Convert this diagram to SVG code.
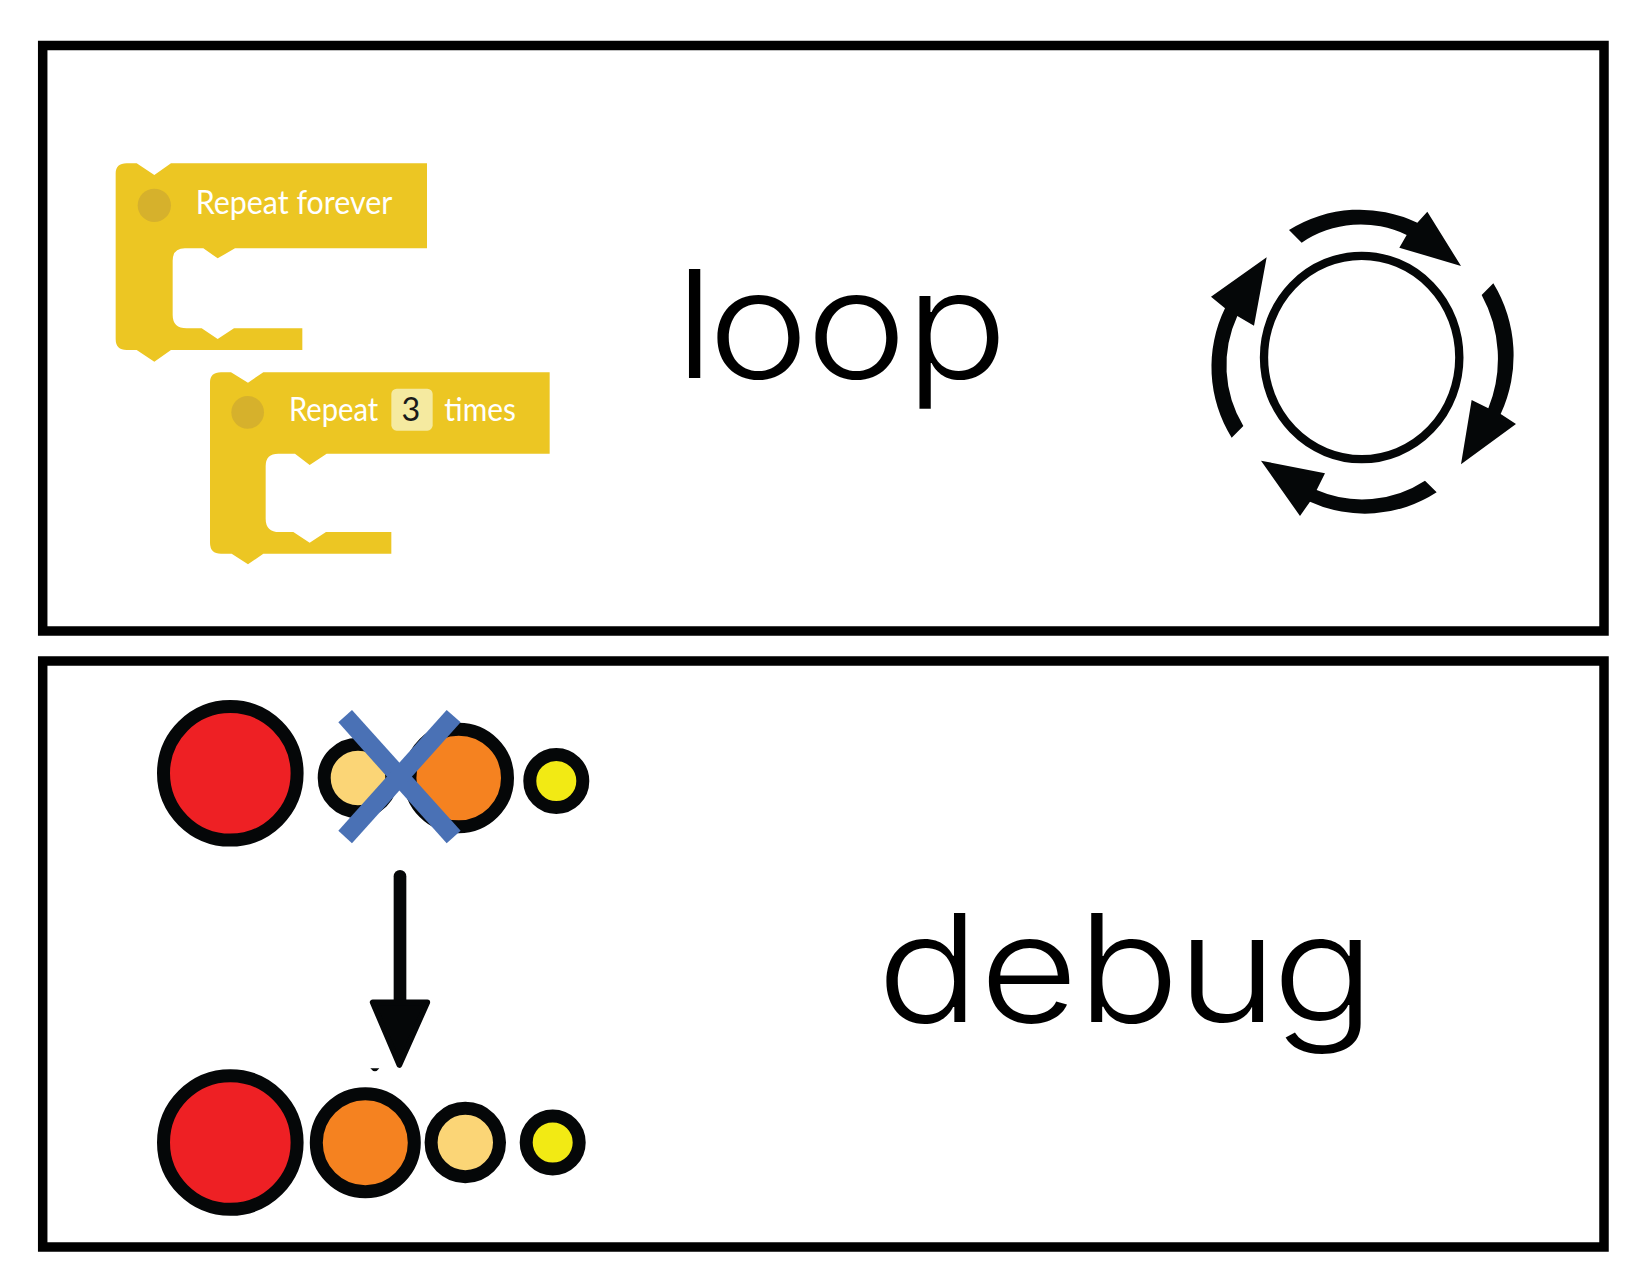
<svg xmlns="http://www.w3.org/2000/svg" width="1651" height="1276" viewBox="0 0 1651 1276">
<style>
.frame{fill:#fff;stroke:#000;stroke-width:9.5}
.block{fill:#ECC623}
.dot{fill:#D6B12C}
.bt{font-family:"Lato","Liberation Sans",sans-serif;font-size:97px;fill:#fff}
.big{font-family:"Inter","Liberation Sans",sans-serif;font-weight:300;font-size:150px;fill:#000}
.ink{fill:#050708}
.ring{stroke:#050708;stroke-width:13}
.red{fill:#EE2024}.org{fill:#F58220}.lt{fill:#FBD576}.yel{fill:#F2EA14}
.x{fill:#4A71B5}
</style>
<rect id="frame-loop" class="frame" x="42.7" y="45.5" width="1561.3" height="585.5"/>
<rect id="frame-debug" class="frame" x="42.7" y="661" width="1561.3" height="586"/>
<g id="block-forever" transform="translate(90 140) scale(.33333)">
<path class="block" d="M77 100Q77 70 110 70L140 70L193 105L243 70L1011 70L1011 325L435 325L383 355L340 325L285 325Q248 325 248 362L248 525Q248 565 290 565L335 565L383 597L432 565L637 565L637 630L243 630L193 665L140 630L110 630Q77 630 77 597Z"/>
<circle class="dot" cx="193" cy="196" r="50"/>
<text class="bt" x="317" y="222" textLength="590" lengthAdjust="spacingAndGlyphs">Repeat forever</text>
</g>
<g id="block-repeat" transform="translate(90 140) scale(.33333)">
<path class="block" d="M360 727Q360 697 393 697L423 697L474 728L520 697L1379 697L1379 941L710 941L659 975L615 941L565 941Q527 941 527 978L527 1136Q527 1176 568 1176L610 1176L659 1208L708 1176L904 1176L904 1241L520 1241L474 1273L425 1241L393 1241Q360 1241 360 1208Z"/>
<circle class="dot" cx="473" cy="817" r="49"/>
<text class="bt" x="597" y="842" textLength="268" lengthAdjust="spacingAndGlyphs">Repeat</text>
<rect x="904" y="746" width="124" height="126" rx="16" fill="#F5EAA0"/>
<text class="bt" x="963" y="842" text-anchor="middle" style="fill:#1a1a1a">3</text>
<text class="bt" x="1063" y="842" textLength="215" lengthAdjust="spacingAndGlyphs">times</text>
</g>
<text id="label-loop" class="big" transform="scale(1.135 1)" x="594.4 623.8 710.1 797.5" y="378">loop</text>
<g id="cycle-icon" transform="translate(1180 180) scale(.33333)">
<ellipse cx="545" cy="532.5" rx="293" ry="305" fill="none" stroke="#050708" stroke-width="25"/>
<path class="ink" d="M327 150A400 400 0 0 1 712 128L742 95L843 258L658 203L680 165A315 315 0 0 0 365 188Z"/>
<path class="ink" d="M940 310A416 416 0 0 1 962 702L1008 732L843 853L875 660L925 685A399 399 0 0 0 905 345Z"/>
<path class="ink" d="M770 937A395 395 0 0 1 390 965L360 1008L243 842L435 880L410 930A344 344 0 0 0 735 902Z"/>
<path class="ink" d="M155 773A401 401 0 0 1 135 385L93 350L260 232L222 437L172 408A352 352 0 0 0 190 738Z"/>
</g>
<g id="seq-before-1"><circle class="ring red" cx="230.3" cy="773.3" r="66.8"/></g>
<g id="seq-before-2"><circle class="ring lt" cx="358" cy="778" r="33.8"/></g>
<g id="seq-before-3"><circle class="ring org" cx="458.7" cy="778" r="48.8"/></g>
<g id="seq-before-4"><circle class="ring yel" cx="556.3" cy="781" r="26.5"/></g>
<g id="cross" transform="translate(140 690) scale(.33333)">
<polygon class="x" points="636,60 962,422 920,460 595,97"/>
<polygon class="x" points="920,60 962,97 636,460 595,422"/>
</g>
<g id="connectors" transform="translate(140 690) scale(.33333)">
<line x1="780" y1="559" x2="780" y2="940" stroke="#050708" stroke-width="38" stroke-linecap="round"/>
<polygon class="ink" points="698,937 862,937 778,1125" stroke="#050708" stroke-width="17" stroke-linejoin="round"/>
<path class="ink" d="M691 1135L718 1135Q705 1153 691 1135Z"/>
</g>
<g id="seq-after-1"><circle class="ring red" cx="230.3" cy="1142.5" r="66.8"/></g>
<g id="seq-after-2"><circle class="ring org" cx="365.3" cy="1142.7" r="49"/></g>
<g id="seq-after-3"><circle class="ring lt" cx="465.3" cy="1142.5" r="34.2"/></g>
<g id="seq-after-4"><circle class="ring yel" cx="552.7" cy="1142.5" r="26.5"/></g>
<text id="label-debug" class="big" transform="scale(1.135 1)" x="772.7 862.9 949 1037 1121" y="1022">debug</text>
</svg>
